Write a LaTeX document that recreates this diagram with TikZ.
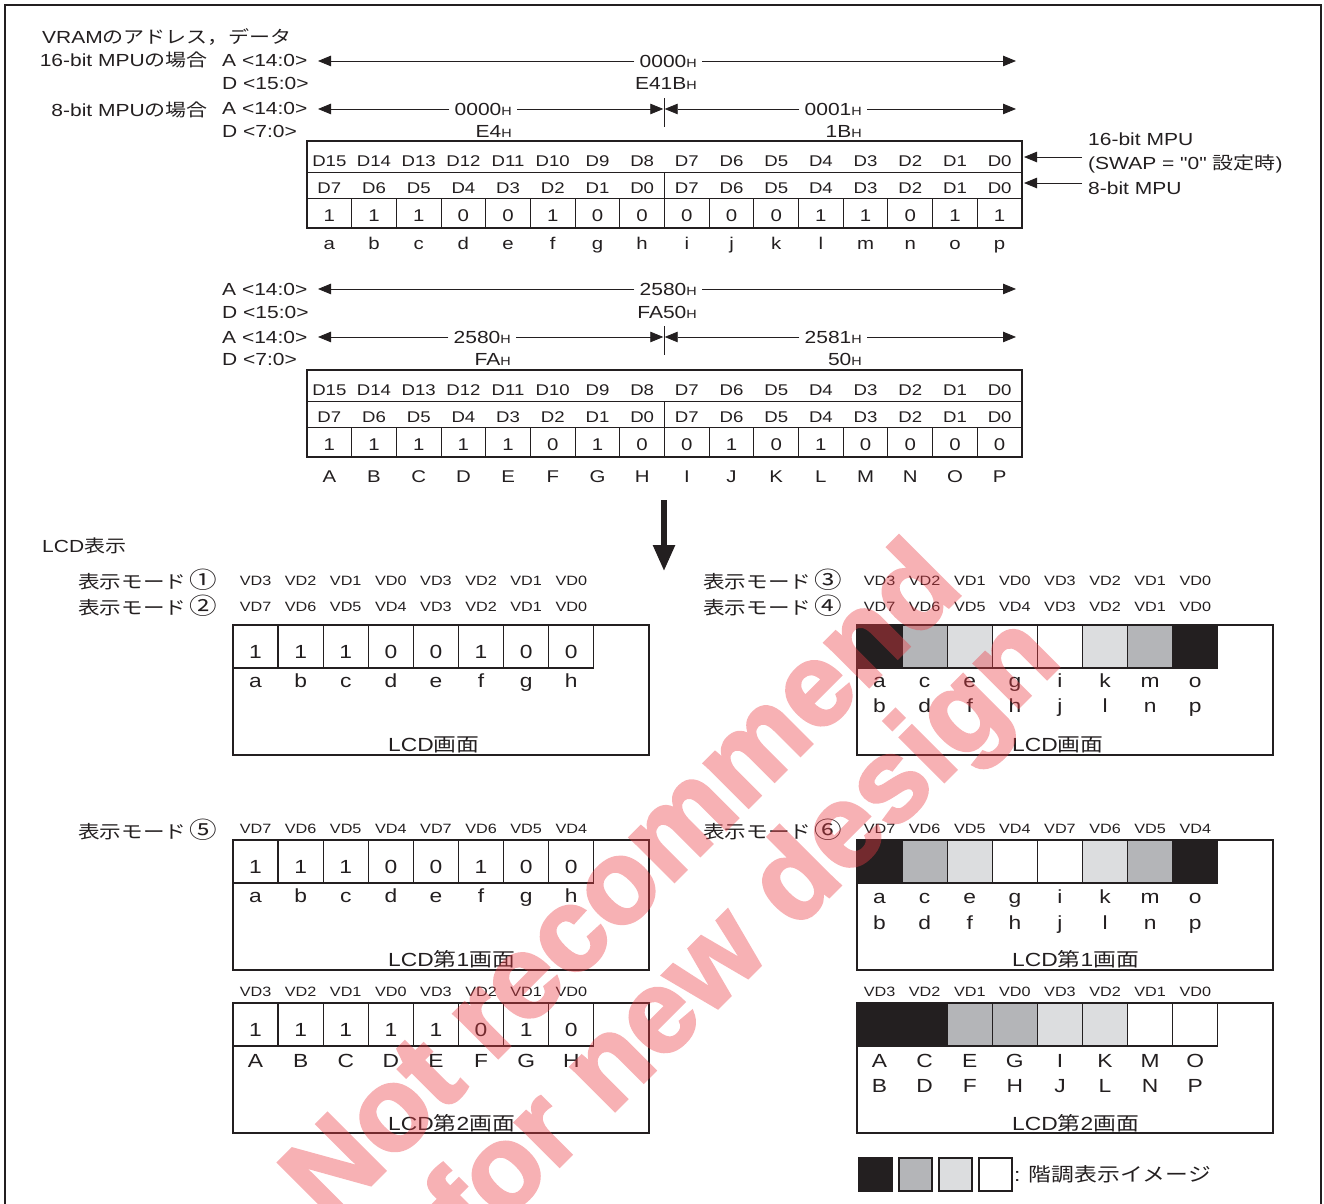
\documentclass[tikz,border=0pt]{standalone}
\usepackage{fontspec}
\setmainfont{Liberation Sans}[FakeStretch=1.2]
\newfontfamily\jp{Noto Sans CJK JP}[FakeStretch=1.2]
\newfontfamily\qf{Liberation Sans}[FakeStretch=1.2, Ligatures=TeXOff]
\newfontfamily\wmf{Liberation Sans}[BoldFeatures={FakeBold=2.5}]
\usetikzlibrary{arrows.meta}
\definecolor{ink}{HTML}{231F20}
\definecolor{gmid}{HTML}{B4B5B8}
\definecolor{glt}{HTML}{DCDDDF}
\definecolor{wmred}{HTML}{EC3B44}
\newcommand\fs[1]{\fontsize{#1}{#1}\selectfont}
\newcommand\hsub{{\fs{12}H}}
\newcommand\circd[1]{\hspace{3pt}{\fs{23}#1}}
\newcommand\cellrow[3]{%
  \foreach \c [count=\k from 0] in {#3}
    \filldraw[cell, fill=\c] ({#1+45.1*\k},#2) rectangle ++(45.1,43);}
\newcommand\rowtext[5]{%
  \foreach \t [count=\k from 0] in {#5}
    \node[#3] (#4\k) at ({#1+45.1*(\k+0.5)},#2) {\t};}
\begin{document}
\begin{tikzpicture}[x=1pt,y=-1pt,
  every node/.style={inner sep=0pt, text=ink},
  lb/.style={anchor=base, font=\fs{17.5}},
  hd/.style={anchor=base, font=\fs{15.5}},
  nm/.style={anchor=base, font=\fs{17}},
  vd/.style={anchor=base, font=\fs{13.5}},
  lc/.style={anchor=base, font=\fs{19}},
  jl/.style={anchor=base, font=\fs{18}\jp},
  dimarr/.style={draw=ink, line width=0.8pt, -{Triangle[length=13pt,width=10.5pt]}},
  tline/.style={draw=ink, line width=1pt},
  tout/.style={draw=ink, line width=1.5pt},
  cell/.style={draw=ink, line width=1.3pt},
  wmnode/.style={font=\wmf\bfseries\fs{118}, text=wmred},
]
\useasboundingbox (0,0) rectangle (1324,1203);
% outer frame
\draw[ink, line width=2pt] (5,1210) -- (5,5) -- (1321,5) -- (1321,1210);

% ---------- headings ----------
\node[lb, anchor=base west] (title) at (42,43) {VRAM{\jp のアドレス，データ}};
\node[lb, anchor=base east] (m16) at (208,66) {16-bit MPU{\jp の場合}};
\node[lb, anchor=base east] (m8) at (208,116) {8-bit MPU{\jp の場合}};
\node[lb, anchor=base west] (a1) at (222,66) {A <14:0>};
\node[lb, anchor=base west] (d1) at (222,89) {D <15:0>};
\node[lb, anchor=base west] (a2) at (222,114) {A <14:0>};
\node[lb, anchor=base west] (d2) at (222,137) {D <7:0>};
\node[lb, anchor=base west] (a3) at (222,295) {A <14:0>};
\node[lb, anchor=base west] (d3) at (222,318) {D <15:0>};
\node[lb, anchor=base west] (a4) at (222,343) {A <14:0>};
\node[lb, anchor=base west] (d4) at (222,365) {D <7:0>};

% ---------- dimension arrows block 1 ----------
\coordinate (L1) at (318,61); \coordinate (R1) at (1016,61);
\coordinate (L2) at (318,109); \coordinate (M2a) at (663.3,109);
\coordinate (M2b) at (664.7,109); \coordinate (R2) at (1016,109);
\coordinate (tk1a) at (664,98); \coordinate (tk1b) at (664,127);
\node[lb, anchor=base east, inner xsep=5pt] (h1) at (702,67) {0000\hsub};
\node[lb, anchor=base east] (h1d) at (697,89) {E41B\hsub};
\node[lb, anchor=base east, inner xsep=5pt] (h2) at (517,115) {0000\hsub};
\node[lb, anchor=base east] (h2d) at (512,137) {E4\hsub};
\node[lb, anchor=base east, inner xsep=5pt] (h3) at (867,115) {0001\hsub};
\node[lb, anchor=base east] (h3d) at (862,137) {1B\hsub};
\draw[dimarr] (h1.west) -- (h1.west -| L1);
\draw[dimarr] (h1.east) -- (h1.east -| R1);
\draw[dimarr] (h2.west) -- (h2.west -| L2);
\draw[dimarr] (h2.east) -- (h2.east -| M2a);
\draw[dimarr] (h3.west) -- (h3.west -| M2b);
\draw[dimarr] (h3.east) -- (h3.east -| R2);
\draw[ink, line width=0.8pt] (tk1a) -- (tk1b);

% ---------- dimension arrows block 2 ----------
\coordinate (L3) at (318,289); \coordinate (R3) at (1016,289);
\coordinate (L4) at (318,337); \coordinate (M4a) at (663.3,337);
\coordinate (M4b) at (664.7,337); \coordinate (R4) at (1016,337);
\coordinate (tk2a) at (664,326); \coordinate (tk2b) at (664,355);
\node[lb, anchor=base east, inner xsep=5pt] (h4) at (702,295) {2580\hsub};
\node[lb, anchor=base east] (h4d) at (697,318) {FA50\hsub};
\node[lb, anchor=base east, inner xsep=5pt] (h5) at (516,343) {2580\hsub};
\node[lb, anchor=base east] (h5d) at (511,365) {FA\hsub};
\node[lb, anchor=base east, inner xsep=5pt] (h6) at (867,343) {2581\hsub};
\node[lb, anchor=base east] (h6d) at (862,365) {50\hsub};
\draw[dimarr] (h4.west) -- (h4.west -| L3);
\draw[dimarr] (h4.east) -- (h4.east -| R3);
\draw[dimarr] (h5.west) -- (h5.west -| L4);
\draw[dimarr] (h5.east) -- (h5.east -| M4a);
\draw[dimarr] (h6.west) -- (h6.west -| M4b);
\draw[dimarr] (h6.east) -- (h6.east -| R4);
\draw[ink, line width=0.8pt] (tk2a) -- (tk2b);

% ---------- right side MPU labels ----------
\node[lb, anchor=base west] (r16) at (1088,145) {16-bit MPU};
\node[lb, anchor=base west] (rsw) at (1088,169) {(SWAP = {\qf "}0{\qf "} {\jp 設定時})};
\node[lb, anchor=base west] (r8) at (1088,194) {8-bit MPU};
\coordinate (ra1) at (1082,157); \coordinate (rt1) at (1024,157);
\coordinate (ra2) at (1082,183); \coordinate (rt2) at (1024,183);
\draw[dimarr] (ra1) -- (rt1);
\draw[dimarr] (ra2) -- (rt2);

% ---------- tables ----------
\foreach \T in {141,370}{
  \draw[tline] (307,\T+31) -- (1022,\T+31);
  \draw[tline] (307,\T+57) -- (1022,\T+57);
  \draw[tline] (664.5,\T+31) -- (664.5,\T+87);
  \foreach \k in {1,...,15} \draw[tline] ({307+44.6875*\k},\T+57) -- ++(0,30);
  \draw[tout] (307,\T) rectangle (1022,\T+87);
  \draw[ink, line width=2pt] (306,\T+87) -- (1023,\T+87);
}
\foreach \i in {0,...,15}{
  \pgfmathtruncatemacro\da{15-\i}
  \pgfmathtruncatemacro\db{7-mod(\i,8)}
  \node[hd] (ta-h\i) at ({307+44.6875*(\i+0.5)},166) {D\da};
  \node[hd] (ta-l\i) at ({307+44.6875*(\i+0.5)},193) {D\db};
  \node[hd] (tb-h\i) at ({307+44.6875*(\i+0.5)},395) {D\da};
  \node[hd] (tb-l\i) at ({307+44.6875*(\i+0.5)},422) {D\db};
}
\foreach \v [count=\i from 0] in {1,1,1,0,0,1,0,0,0,0,0,1,1,0,1,1}
  \node[nm] (ta-n\i) at ({307+44.6875*(\i+0.5)},221) {\v};
\foreach \v [count=\i from 0] in {a,b,c,d,e,f,g,h,i,j,k,l,m,n,o,p}
  \node[nm] (ta-c\i) at ({307+44.6875*(\i+0.5)},249) {\v};
\foreach \v [count=\i from 0] in {1,1,1,1,1,0,1,0,0,1,0,1,0,0,0,0}
  \node[nm] (tb-n\i) at ({307+44.6875*(\i+0.5)},450) {\v};
\foreach \v [count=\i from 0] in {A,B,C,D,E,F,G,H,I,J,K,L,M,N,O,P}
  \node[nm] (tb-c\i) at ({307+44.6875*(\i+0.5)},482) {\v};

% ---------- big down arrow ----------
\coordinate (da1) at (664,500); \coordinate (da2) at (664,571);
\draw[ink, line width=5.5pt, -{Triangle[length=26pt,width=21pt]}] (da1) -- (da2);

% ---------- LCD section ----------
\node[lb, anchor=base west] (lcdt) at (42,552) {LCD{\jp 表示}};
\node[jl, anchor=base east] (md1) at (217,588) {表示モード\circd{①}};
\node[jl, anchor=base east] (md2) at (217,614) {表示モード\circd{②}};
\node[jl, anchor=base east] (md3) at (842,588) {表示モード\circd{③}};
\node[jl, anchor=base east] (md4) at (842,614) {表示モード\circd{④}};
\node[jl, anchor=base east] (md5) at (217,838) {表示モード\circd{⑤}};
\node[jl, anchor=base east] (md6) at (842,838) {表示モード\circd{⑥}};

% boxes
\foreach \bx/\by in {233/625,857/625,233/840,233/1003,857/840,857/1003}
  \draw[cell] (\bx,\by) rectangle ++(416,130);

% box 1 (modes 1,2)
\rowtext{233}{585}{vd}{v1a}{VD3,VD2,VD1,VD0,VD3,VD2,VD1,VD0}
\rowtext{233}{611}{vd}{v1b}{VD7,VD6,VD5,VD4,VD3,VD2,VD1,VD0}
\cellrow{233}{625}{white,white,white,white,white,white,white,white}
\rowtext{233}{658}{lc}{n1}{1,1,1,0,0,1,0,0}
\rowtext{233}{687}{lc}{c1}{a,b,c,d,e,f,g,h}
\node[lc, anchor=base west] (s1) at (388,751) {LCD{\jp 画面}};

% box 2 (modes 3,4)
\rowtext{857}{585}{vd}{v2a}{VD3,VD2,VD1,VD0,VD3,VD2,VD1,VD0}
\rowtext{857}{611}{vd}{v2b}{VD7,VD6,VD5,VD4,VD3,VD2,VD1,VD0}
\cellrow{857}{625}{ink,gmid,glt,white,white,glt,gmid,ink}
\rowtext{857}{687}{lc}{c2a}{a,c,e,g,i,k,m,o}
\rowtext{857}{712}{lc}{c2b}{b,d,f,h,j,l,n,p}
\node[lc, anchor=base west] (s2) at (1012,751) {LCD{\jp 画面}};

% box 3 (mode 5, screen 1)
\rowtext{233}{833}{vd}{v3}{VD7,VD6,VD5,VD4,VD7,VD6,VD5,VD4}
\cellrow{233}{840}{white,white,white,white,white,white,white,white}
\rowtext{233}{873}{lc}{n3}{1,1,1,0,0,1,0,0}
\rowtext{233}{902}{lc}{c3}{a,b,c,d,e,f,g,h}
\node[lc, anchor=base west] (s3) at (388,966) {LCD{\jp 第}1{\jp 画面}};

% box 4 (mode 5, screen 2)
\rowtext{233}{996}{vd}{v4}{VD3,VD2,VD1,VD0,VD3,VD2,VD1,VD0}
\cellrow{233}{1003}{white,white,white,white,white,white,white,white}
\rowtext{233}{1036}{lc}{n4}{1,1,1,1,1,0,1,0}
\rowtext{233}{1067}{lc}{c4}{A,B,C,D,E,F,G,H}
\node[lc, anchor=base west] (s4) at (388,1130) {LCD{\jp 第}2{\jp 画面}};

% box 5 (mode 6, screen 1)
\rowtext{857}{833}{vd}{v5}{VD7,VD6,VD5,VD4,VD7,VD6,VD5,VD4}
\cellrow{857}{840}{ink,gmid,glt,white,white,glt,gmid,ink}
\rowtext{857}{903}{lc}{c5a}{a,c,e,g,i,k,m,o}
\rowtext{857}{929}{lc}{c5b}{b,d,f,h,j,l,n,p}
\node[lc, anchor=base west] (s5) at (1012,966) {LCD{\jp 第}1{\jp 画面}};

% box 6 (mode 6, screen 2)
\rowtext{857}{996}{vd}{v6}{VD3,VD2,VD1,VD0,VD3,VD2,VD1,VD0}
\cellrow{857}{1003}{ink,ink,gmid,gmid,glt,glt,white,white}
\rowtext{857}{1067}{lc}{c6a}{A,C,E,G,I,K,M,O}
\rowtext{857}{1092}{lc}{c6b}{B,D,F,H,J,L,N,P}
\node[lc, anchor=base west] (s6) at (1012,1130) {LCD{\jp 第}2{\jp 画面}};

% legend
\foreach \c [count=\k from 0] in {ink,gmid,glt,white}
  \filldraw[draw=ink, line width=1.3pt, fill=\c] ({859+40*\k},1158) rectangle ++(33,33);
\node[lc, anchor=base west] (leg) at (1014,1181) {: {\jp 階調表示イメージ}};

% watermark
\begin{scope}[transparency group, opacity=0.4]
\node[wmnode, rotate=45] (wm1) at (618,878) {Not recommend};
\node[wmnode, rotate=45] (wm2) at (748,935) {for new design};
\end{scope}
\end{tikzpicture}
\end{document}
